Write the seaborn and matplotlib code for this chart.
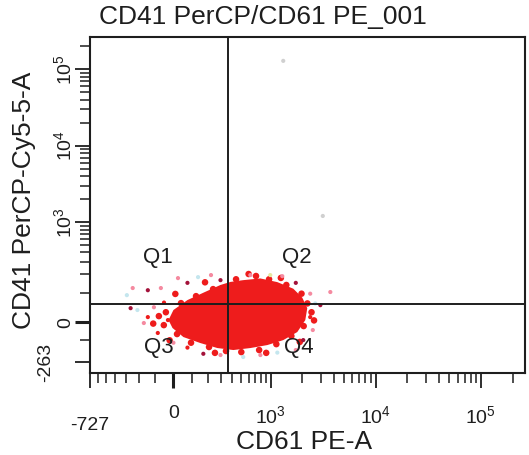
import numpy as np
import pandas as pd
import matplotlib
matplotlib.use('Agg')
import matplotlib.pyplot as plt
import seaborn as sns

# quadrant gate (CD61 PE-A, CD41 PerCP-Cy5-5-A)
gate_x = 365
gate_y = 56

# outline of the dense core of the population
core_x = [-26, 0, 75, 169, 294, 384, 528, 788, 1155, 1646, 2008, 2240,
          2145, 1798, 1318, 923, 625, 414, 269, 150, 53, -5]
core_y = [6, 37, 71, 100, 136, 152, 162, 172, 151, 118, 80, 43,
          6, -53, -99, -130, -150, -164, -150, -117, -81, -31]

# events on the ragged border of the core
edge_x = [-40, 40, 124, 236, 443, 713, 960, 1412, 1974, 2246, 2460, 2070,
          1578, 1130, 766, 504, 342, 207, 95, 19, -51, -78,
          -110, 10, 180, 600, 1250, 2600, 1900, 900, 250, -20]
edge_y = [30, 60, 86, 116, 167, 187, 167, 136, 96, 59, 30, -21,
          -75, -124, -164, -179, -171, -143, -115, -64, -16, 18,
          -8, 95, 150, 200, 175, 5, -110, -185, -185, -100]

# sparse events around the population
event_x = [-244, -290, -142, -67, 24, 75, 136, 221, 294, 625, 986, 1290,
           1740, 2390, 2670, 2985, 3715, 2390, 2530, 2050, 1740, 1155, 788, 528,
           294, 169, 75, 0, -84, -167, -210, -260, -142, -106, -50, -29,
           1318, 3150]
event_y = [121, 90, 111, 121, 174, 147, 180, 193, 162, 193, 193, 186,
           147, 96, 59, 53, 103, 15, -42, -99, -164, -183, -202, -218,
           -202, -192, -147, -115, -58, -5, 37, 43, 15, 46, 62, 6,
           128000, 1210]
event_kind = ['pink', 'cyan', 'dark', 'pink', 'pink', 'dark', 'cyan', 'pink', 'dark', 'pink', 'yellow', 'pink',
              'dark', 'pink', 'cyan', 'dark', 'pink', 'red', 'pink', 'dark', 'pink', 'cyan', 'pink', 'cyan',
              'pink', 'dark', 'red', 'pink', 'red', 'pink', 'cyan', 'dark', 'red', 'pink', 'red', 'red',
              'grey', 'grey']

x_ticks = [-727, 0, 1000, 10000, 100000]
x_tick_labels = ['', '0', '$10^3$', '$10^4$', '$10^5$']
y_ticks = [-263, 0, 1000, 10000, 100000]
y_tick_labels = ['', '0', '$10^3$', '$10^4$', '$10^5$']
x_range = (-727, 262144)
y_range = (-383, 262144)

kind_colors = {'red': '#ee1c1c', 'dark': '#a3123a', 'pink': '#f58aa0',
               'cyan': '#c4e6ee', 'yellow': '#e6e8a0', 'grey': '#d0d0d0'}

sns.set_style('white')
plt.rcParams['font.family'] = ['Liberation Sans', 'DejaVu Sans']
plt.rcParams['mathtext.default'] = 'regular'
ink = '#1e1e1e'


# biexponential-like display scales
def x_fwd(v):
    return np.arcsinh(np.asarray(v, dtype=float) / 241.0)


def x_inv(t):
    return 241.0 * np.sinh(np.asarray(t, dtype=float))


def y_fwd(v):
    v = np.asarray(v, dtype=float)
    return np.where(v >= 0, np.arcsinh(v / 100.0), np.arcsinh(v / 174.0))


def y_inv(t):
    t = np.asarray(t, dtype=float)
    return np.where(t >= 0, 100.0 * np.sinh(t), 174.0 * np.sinh(t))


fig = plt.figure(figsize=(5.29, 4.55), dpi=100)
ax = fig.add_axes([90 / 529, 1 - 373 / 455, 435 / 529, 336 / 455])
ax.set_xscale('function', functions=(x_fwd, x_inv))
ax.set_yscale('function', functions=(y_fwd, y_inv))
ax.set_xlim(*x_range)
ax.set_ylim(*y_range)

ax.fill(core_x, core_y, color=kind_colors['red'], lw=0, zorder=2)

edges = pd.DataFrame({'x': edge_x, 'y': edge_y})
sns.scatterplot(data=edges, x='x', y='y', color=kind_colors['red'], s=22,
                edgecolor='none', ax=ax, zorder=3)

events = pd.DataFrame({'x': event_x, 'y': event_y, 'kind': event_kind})
sns.scatterplot(data=events, x='x', y='y', hue='kind', palette=kind_colors,
                s=9, edgecolor='none', legend=False, ax=ax, zorder=3)

ax.axvline(gate_x, color=ink, lw=1.4, zorder=4)
ax.axhline(gate_y, color=ink, lw=1.4, zorder=4)

for lab, qx, qy in [('Q1', -84, 344), ('Q2', 1766, 344), ('Q3', -80, -143), ('Q4', 1880, -143)]:
    ax.text(qx, qy, lab, fontsize=16, color=ink, ha='center', va='center', zorder=5)

# ticks
ax.set_xticks(x_ticks)
ax.set_xticklabels(x_tick_labels, fontsize=14, color=ink)
ax.set_xticks([-600, -500, -400, -300, -200, -100]
              + list(range(100, 1000, 100)) + list(range(2000, 10000, 1000))
              + list(range(20000, 100000, 10000)) + [200000], minor=True)
ax.set_yticks(y_ticks)
ax.set_yticklabels(y_tick_labels, fontsize=14, color=ink, rotation=90, va='center')
ax.set_yticks([-100] + list(range(100, 1000, 100)) + list(range(2000, 10000, 1000))
              + list(range(20000, 100000, 10000)) + [200000], minor=True)
ax.tick_params(axis='both', which='major', direction='out', length=11, width=1.3,
               color=ink, bottom=True, left=True)
ax.tick_params(axis='both', which='minor', direction='out', length=7, width=1.1,
               color=ink, bottom=True, left=True)
ax.tick_params(axis='x', which='major', pad=12)
ax.tick_params(axis='y', which='major', pad=0)
# the zero ticks are drawn heavier
ax.xaxis.get_major_ticks()[1].tick1line.set_markeredgewidth(2.2)
ax.yaxis.get_major_ticks()[1].tick1line.set_markeredgewidth(2.2)
ax.set_xlabel('')
ax.set_ylabel('')

ax.text(-727, -0.155, '-727', transform=ax.get_xaxis_transform(), fontsize=14,
        color=ink, ha='center', va='center')
ax.text(-0.103, -263, '-263', transform=ax.get_yaxis_transform(), fontsize=14,
        color=ink, ha='center', va='center', rotation=90)

for s in ax.spines.values():
    s.set_color(ink)
    s.set_linewidth(1.5)

fig.text(263 / 529, 1 - 17 / 455, 'CD41 PerCP/CD61 PE_001', fontsize=19,
         color=ink, ha='center', va='center')
fig.text(304 / 529, 1 - 442 / 455, 'CD61 PE-A', fontsize=19,
         color=ink, ha='center', va='center')
fig.text(24 / 529, 1 - 200 / 455, 'CD41 PerCP-Cy5-5-A', fontsize=19,
         color=ink, ha='center', va='center', rotation=90)

fig.savefig('out.png', dpi=100, facecolor='white')
